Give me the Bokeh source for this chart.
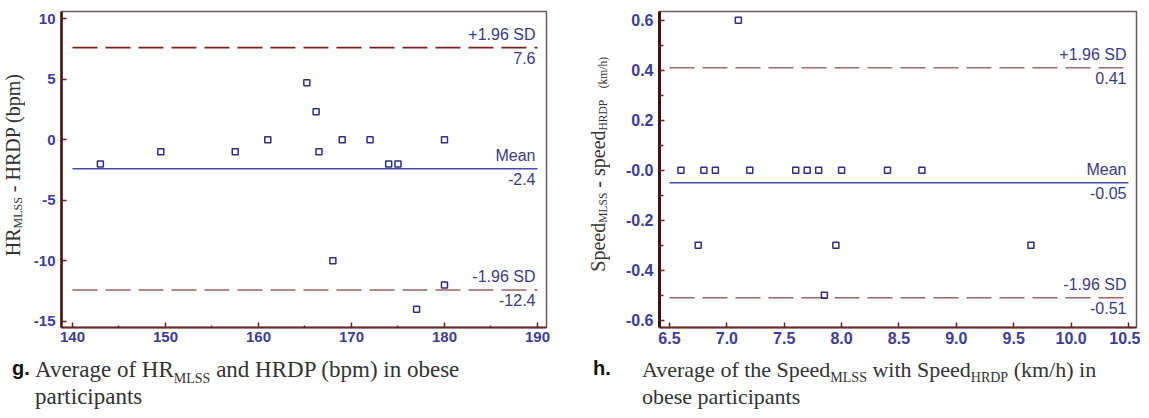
from bokeh.plotting import figure
from bokeh.models import Range1d, FixedTicker, ColumnDataSource, Div
from bokeh.layouts import row, column
from bokeh.embed import file_html
from bokeh.resources import INLINE
from bokeh.core.properties import value

# ---------------- data ----------------
hr_avg = [143, 149.5, 157.5, 161, 165.2, 166.2, 166.5, 169, 172, 174, 175, 180, 168, 180, 177]
hr_diff = [-2, -1, -1, 0, 4.7, 2.3, -1, 0, 0, -2, -2, 0, -10, -12, -14]
hr_stats = [7.6, -2.4, -12.4]
hr_stat_names = ["+1.96 SD", "Mean", "-1.96 SD"]
hr_stat_values = ["7.6", "-2.4", "-12.4"]
hr_x_ticks = [140, 150, 160, 170, 180, 190]
hr_x_minor = [145, 155, 165, 175, 185]
hr_y_ticks = [-15, -10, -5, 0, 5, 10]
hr_y_labels = ["-15", "-10", "-5", "0", "5", "10"]

speed_avg = [6.6, 6.8, 6.9, 7.1, 7.2, 7.6, 7.7, 7.8, 8.0, 8.4, 8.7, 6.75, 7.95, 7.85, 9.65]
speed_diff = [0, 0, 0, 0.6, 0, 0, 0, 0, 0, 0, 0, -0.3, -0.3, -0.5, -0.3]
speed_stats = [0.41, -0.05, -0.51]
speed_stat_names = ["+1.96 SD", "Mean", "-1.96 SD"]
speed_stat_values = ["0.41", "-0.05", "-0.51"]
speed_x_ticks = [6.5, 7.0, 7.5, 8.0, 8.5, 9.0, 9.5, 10.0, 10.5]
speed_x_labels = ["6.5", "7.0", "7.5", "8.0", "8.5", "9.0", "9.5", "10.0", "10.5"]
speed_y_ticks = [-0.6, -0.4, -0.2, 0.0, 0.2, 0.4, 0.6]
speed_y_labels = ["-0.6", "-0.4", "-0.2", "-0.0", "0.2", "0.4", "0.6"]
speed_y_minor = [-0.5, -0.3, -0.1, 0.1, 0.3, 0.5]

# ---------------- styling ----------------
TICK_COLOR = "#3c3ca0"
NOTE_COLOR = "#3a3a8c"
POINT_COLOR = "#2e2e88"
MEAN_COLOR = "#4b4ba6"
SANS = "Liberation Sans"
TEXT_COLOR = "#333333"


def make_fig(width, xr, yr, left, right):
    p = figure(width=width, height=351, x_range=xr, y_range=yr,
               output_backend="svg", toolbar_location=None,
               min_border_left=left, min_border_right=right,
               min_border_top=11, min_border_bottom=24)
    p.xgrid.visible = False
    p.ygrid.visible = False
    p.background_fill_color = "white"
    p.border_fill_color = "white"
    p.outline_line_color = "#705858"
    p.outline_line_width = 1.5
    for ax in (p.xaxis[0], p.yaxis[0]):
        ax.major_tick_in = 5
        ax.major_tick_out = 0
        ax.minor_tick_in = 2
        ax.minor_tick_out = 0
        ax.major_tick_line_color = "#6a2020"
        ax.major_tick_line_width = 1.5
        ax.minor_tick_line_color = "#6a2020"
        ax.minor_tick_line_width = 1.5
        ax.major_label_text_font = SANS
        ax.major_label_text_font_style = "bold"
        ax.major_label_text_color = TICK_COLOR
    p.xaxis.axis_line_color = "#6a2c2c"
    p.xaxis.axis_line_width = 2
    p.yaxis.axis_line_color = "#4a0c0c"
    p.yaxis.axis_line_width = 2.5
    p.xaxis.major_label_standoff = 4
    p.yaxis.major_label_standoff = 6
    return p


def add_stats(p, x0, x1, stats, names, vals, upper_color, lower_color):
    sd = ColumnDataSource(dict(x0=[x0, x0], x1=[x1, x1], y=[stats[0], stats[2]],
                               c=[upper_color, lower_color]))
    p.segment(x0="x0", y0="y", x1="x1", y1="y", source=sd, line_color="c",
              line_width=1.6, line_dash="25 8")
    p.segment(x0=[x0], y0=[stats[1]], x1=[x1], y1=[stats[1]], line_color=MEAN_COLOR,
              line_width=1.5)
    src = ColumnDataSource(dict(x=[x1] * 3, y=stats, name=names, val=vals))
    p.text(x="x", y="y", text="name", source=src, x_offset=-2, y_offset=-5,
           text_align="right", text_baseline="bottom", text_font=value(SANS),
           text_font_size="16px", text_color=NOTE_COLOR)
    p.text(x="x", y="y", text="val", source=src, x_offset=-2, y_offset=4,
           text_align="right", text_baseline="top", text_font=value(SANS),
           text_font_size="16px", text_color=NOTE_COLOR)


def ylabel_div(width, top, html):
    return Div(width=width, height=351, margin=0, text=(
        f'<div style="width:{width}px;height:351px;position:relative;">'
        f'<div style="position:absolute;top:{top}px;left:0;width:{width}px;'
        'display:flex;justify-content:center;">'
        '<div style="writing-mode:vertical-rl;transform:rotate(180deg);'
        "font-family:'Liberation Serif';font-size:20px;line-height:22px;"
        f'color:{TEXT_COLOR};white-space:nowrap;">{html}</div></div></div>'))


def caption_div(width, tag_left, text_left, size, tag, html):
    return Div(width=width, height=60, margin=0, text=(
        f'<div style="width:{width}px;height:60px;position:relative;">'
        f'<div style="position:absolute;top:4px;left:{tag_left}px;'
        "font-family:'Liberation Sans';font-weight:bold;font-size:20px;"
        f'line-height:27px;color:#111;">{tag}</div>'
        f'<div style="position:absolute;top:5px;left:{text_left}px;'
        f"font-family:'Liberation Serif';font-size:{size}px;line-height:27px;"
        f'color:{TEXT_COLOR};white-space:nowrap;">{html}</div></div>'))


SUB = '<sub style="font-size:{}px;line-height:0;">{}</sub>'

# ---------------- left panel (g) ----------------
p1 = make_fig(549, Range1d(138.82, 190.97), Range1d(-15.5, 10.58), 36, 28)
p1.xaxis.ticker = FixedTicker(ticks=hr_x_ticks, minor_ticks=hr_x_minor)
p1.yaxis.ticker = FixedTicker(ticks=hr_y_ticks, minor_ticks=[])
p1.yaxis.major_label_overrides = dict(zip(hr_y_ticks, hr_y_labels))
p1.xaxis.major_label_text_font_size = "15px"
p1.yaxis.major_label_text_font_size = "15px"
add_stats(p1, hr_x_ticks[0], hr_x_ticks[-1], hr_stats, hr_stat_names, hr_stat_values,
          "#7a1e1e", "#9c6464")
p1.scatter(hr_avg, hr_diff, marker="square", size=6, fill_color=None,
           line_color=POINT_COLOR, line_width=1.5)

# ---------------- right panel (h) ----------------
p2 = make_fig(518, Range1d(6.413, 10.57), Range1d(-0.629, 0.635), 37, 4)
p2.xaxis.ticker = FixedTicker(ticks=speed_x_ticks, minor_ticks=[])
p2.yaxis.ticker = FixedTicker(ticks=speed_y_ticks, minor_ticks=speed_y_minor)
p2.yaxis.minor_tick_in = 4
p2.xaxis.major_label_overrides = dict(zip(speed_x_ticks, speed_x_labels))
p2.yaxis.major_label_overrides = dict(zip(speed_y_ticks, speed_y_labels))
p2.xaxis.major_label_text_font_size = "16px"
p2.yaxis.major_label_text_font_size = "16px"
p2.yaxis.axis_line_width = 3
add_stats(p2, speed_x_ticks[0], speed_x_ticks[-1], speed_stats, speed_stat_names,
          speed_stat_values, "#a06a6a", "#9c6464")
p2.scatter(speed_avg, speed_diff, marker="square", size=6, fill_color=None,
           line_color=POINT_COLOR, line_width=1.5)

# ---------------- texts outside the frames ----------------
ylab1 = ylabel_div(25, 74, "HR" + SUB.format(12, "MLSS") + " - HRDP (bpm)")
ylab2 = ylabel_div(48, 57, "Speed" + SUB.format(11.5, "MLSS") + " - speed"
                   + SUB.format(11.5, "HRDP&nbsp;&nbsp;&nbsp;&nbsp;(km/h)"))
cap1 = caption_div(574, 12, 35, 23, "g.",
                   "Average of HR" + SUB.format(14, "MLSS")
                   + " and HRDP (bpm) in obese<br>participants")
cap2 = caption_div(566, 19, 68, 22, "h.",
                   "Average of the Speed" + SUB.format(14, "MLSS") + " with Speed"
                   + SUB.format(14, "HRDP") + " (km/h) in<br>obese participants")

layout = column(row(ylab1, p1, ylab2, p2), row(cap1, cap2))
open("out.html", "w").write(file_html(layout, INLINE))
